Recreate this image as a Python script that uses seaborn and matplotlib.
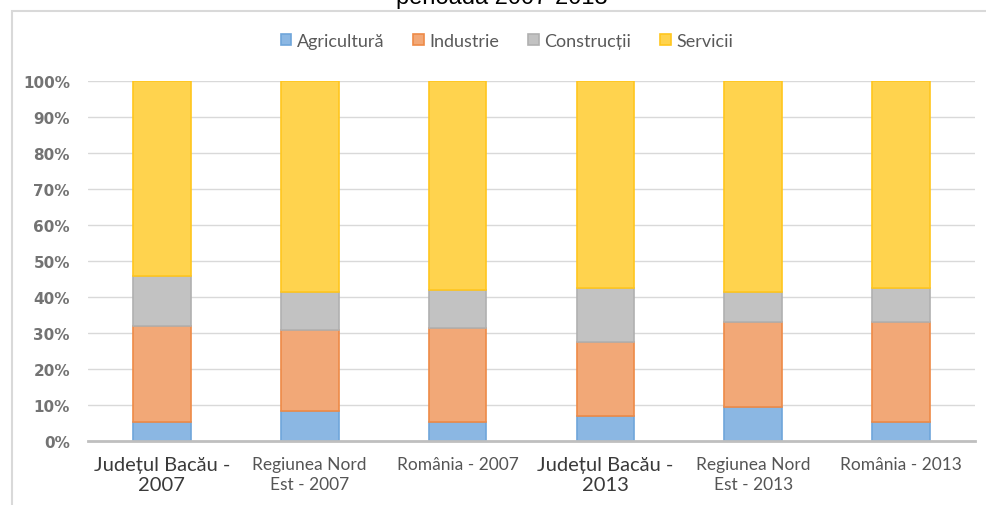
import pandas as pd
import matplotlib.pyplot as plt
import seaborn as sns
from matplotlib.patches import Rectangle

# shares (%)
categories = ['Județul Bacău -\n2007', 'Regiunea Nord\nEst - 2007', 'România - 2007',
              'Județul Bacău -\n2013', 'Regiunea Nord\nEst - 2013', 'România - 2013']
agricultura = [5.4, 8.4, 5.4, 6.9, 9.4, 5.2]
industrie = [26.6, 22.4, 25.9, 20.6, 23.7, 27.8]
constructii = [13.9, 10.5, 10.7, 14.9, 8.2, 9.4]
servicii = [54.1, 58.7, 58.0, 57.6, 58.7, 57.6]

sectors = ['Agricultură', 'Industrie', 'Construcții', 'Servicii']
face_colors = ['#8BB7E3', '#F2A877', '#C2C2C2', '#FFD34E']
edge_colors = ['#6FA5DA', '#EE8A47', '#B0B0B0', '#FFC61E']

df = pd.DataFrame({'cat': categories, 'Agricultură': agricultura, 'Industrie': industrie,
                   'Construcții': constructii, 'Servicii': servicii})

sns.set_theme(style='white')
plt.rcParams['font.family'] = ['DejaVu Sans']

fig = plt.figure(figsize=(9.86, 5.06), dpi=100)
ax = fig.add_axes([88 / 986, 64 / 506, 887 / 986, 360 / 506])

bottom = pd.Series([0.0] * len(df))
for sec, fc, ec in zip(sectors, face_colors, edge_colors):
    sns.barplot(data=df, x='cat', y=sec, bottom=bottom.values, color=fc, edgecolor=ec,
                linewidth=1.2, width=0.39, saturation=1, ax=ax, label=sec)
    bottom = bottom + df[sec]

ax.set_ylim(0, 100)
ax.set_xlim(-0.5, 5.5)
ax.set_yticks(range(0, 101, 10))
ax.set_yticklabels([f'{v}%' for v in range(0, 101, 10)], fontsize=11, color='#737373',
                   family=['DejaVu Sans'], fontweight='bold')
ax.yaxis.grid(True, color='#D9D9D9', linewidth=1)
ax.set_axisbelow(True)
ax.set_xlabel('')
ax.set_ylabel('')
for s in ['top', 'right', 'left']:
    ax.spines[s].set_visible(False)
ax.spines['bottom'].set_color('#BFBFBF')
ax.spines['bottom'].set_linewidth(2)
ax.tick_params(axis='y', length=0, pad=13)
ax.tick_params(axis='x', length=0, pad=11)

narrow = ['Lato', 'DejaVu Sans']
ax.set_xticks(range(len(categories)))
ax.set_xticklabels(categories, family=narrow)
for i, lab in enumerate(ax.get_xticklabels()):
    if 'Bacău' in categories[i]:
        lab.set_fontsize(14.5)
        lab.set_color('#3A3A3A')
        lab.set_linespacing(1.2)
    else:
        lab.set_fontsize(12.5)
        lab.set_color('#555555')
        lab.set_linespacing(1.3)
    lab.set_va('top')

handles, labels = ax.get_legend_handles_labels()
leg = ax.legend(handles, labels, loc='center', bbox_to_anchor=(507 / 986, 1 - 42 / 506),
                bbox_transform=fig.transFigure, ncol=4, frameon=False, handlelength=0.6,
                handleheight=0.6, handletextpad=0.3, columnspacing=1.6,
                prop={'family': narrow, 'size': 13})
for t in leg.get_texts():
    t.set_color('#595959')

# chart border and cut-off title
fig.patches.append(Rectangle((12 / 986, -0.1), 2, 1.1 - 12 / 506, transform=fig.transFigure,
                             fill=False, edgecolor='#D9D9D9', linewidth=1.5))
fig.text(502 / 986, 1 - 4 / 506, 'perioada 2007-2013', ha='center', va='baseline',
         fontsize=17, family=['Liberation Sans', 'DejaVu Sans'], color='black')

fig.savefig('out.png', dpi=100)
